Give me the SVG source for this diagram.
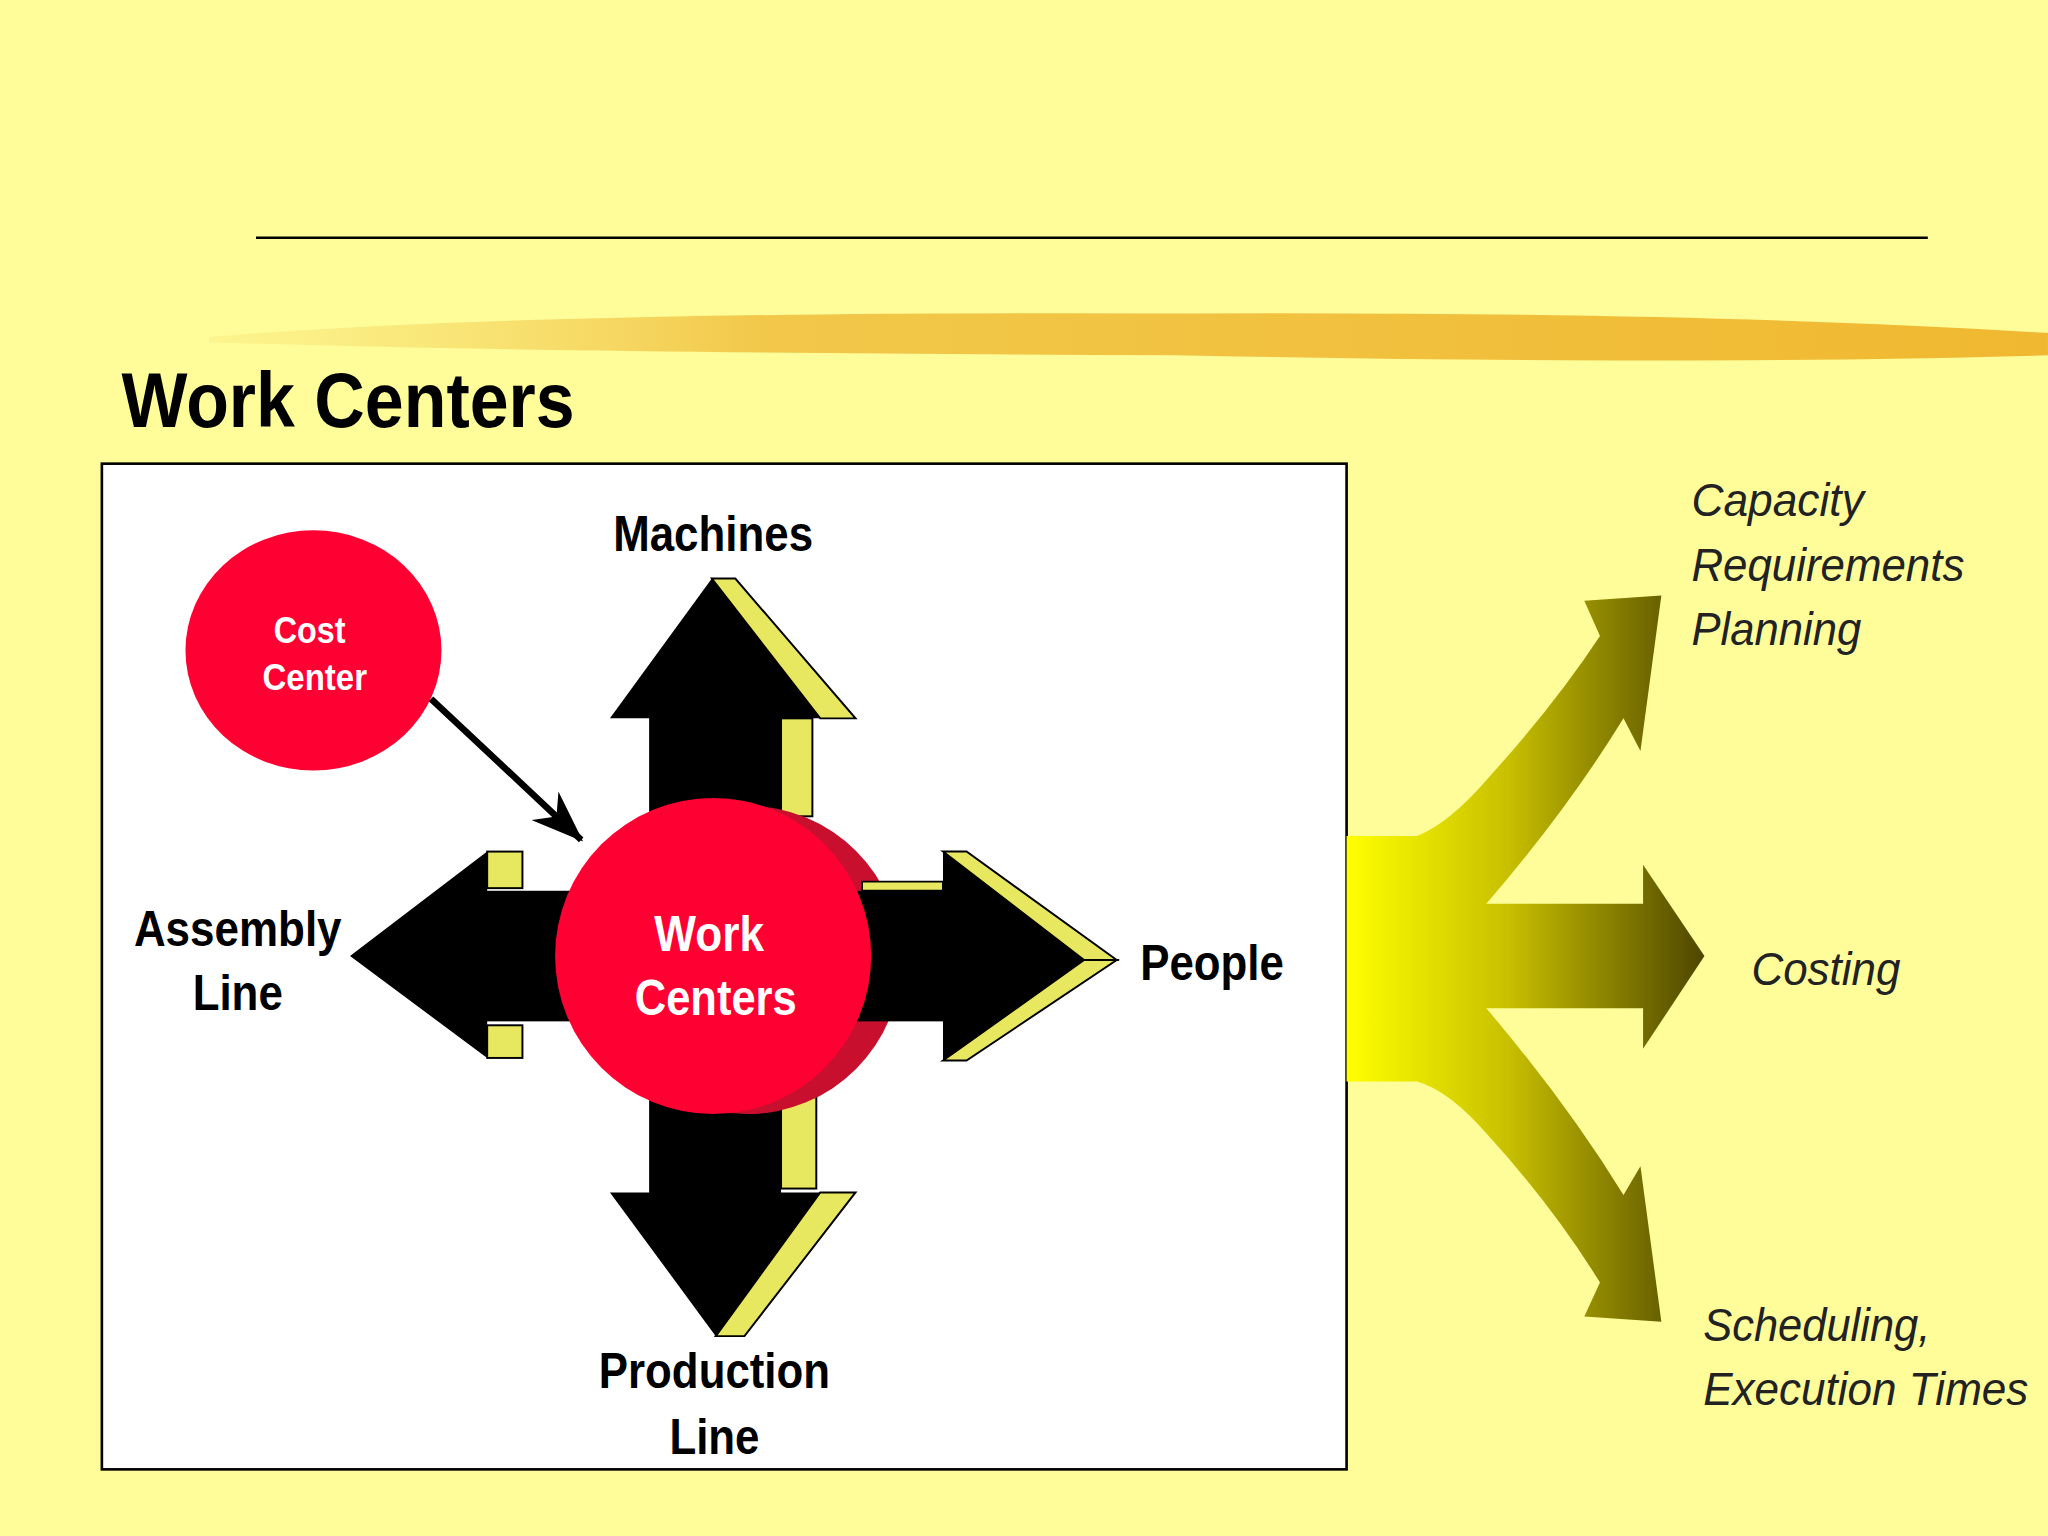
<svg xmlns="http://www.w3.org/2000/svg" width="2048" height="1536" viewBox="0 0 2048 1536">
<defs>
<style>
.b{font-family:"Liberation Sans Narrow","Liberation Sans",Arial,sans-serif;font-weight:bold;text-anchor:middle}
.i{font-family:"Liberation Sans",Arial,sans-serif;font-style:italic;fill:#222;font-size:36px}
.k{fill:#000}.y{fill:#E8E860;stroke:#000;stroke-width:1.5}
</style>
<linearGradient id="g" x1="1031" y1="0" x2="1305" y2="0" gradientUnits="userSpaceOnUse">
<stop offset="0" stop-color="#FFFF00"/><stop offset="0.45" stop-color="#C8C000"/><stop offset="1" stop-color="#4E4600"/></linearGradient>
<linearGradient id="br" x1="0" y1="0" x2="1" y2="0">
<stop offset="0" stop-color="#F8E070" stop-opacity="0.3"/><stop offset="0.3" stop-color="#F2C84A"/><stop offset="1" stop-color="#F0B830"/></linearGradient>
<marker id="ah" markerWidth="40" markerHeight="30" refX="38" refY="15" orient="auto" markerUnits="userSpaceOnUse" viewBox="0 0 40 30"><path d="M0,0 L40,15 L0,30 L12,15Z" fill="#000"/></marker>
</defs>
<rect width="2048" height="1536" fill="#FEFD9A"/>
<g transform="scale(1.3061)">
<line x1="196" y1="182" x2="1476" y2="182" stroke="#000" stroke-width="2"/>
<path d="M160,258 Q400,238 900,240 Q1300,238 1568,255 L1568,272 Q1300,280 900,272 Q400,270 160,262Z" fill="url(#br)"/>
<text x="93" y="327" class="b" textLength="347" lengthAdjust="spacingAndGlyphs" style="text-anchor:start;font-size:60px;fill:#000">Work Centers</text>
<rect x="78" y="355" width="953" height="770" fill="#fff" stroke="#000" stroke-width="2"/>
<g id="cost"><ellipse cx="240" cy="498" rx="98" ry="92" fill="#FF0033"/>
<text x="237" y="492" class="b" textLength="55" lengthAdjust="spacingAndGlyphs" style="font-size:28px;fill:#fff">Cost</text>
<text x="241" y="528" class="b" textLength="80" lengthAdjust="spacingAndGlyphs" style="font-size:28px;fill:#fff">Center</text></g>
<g id="connectors"><line x1="330" y1="535" x2="445" y2="643" stroke="#000" stroke-width="5" marker-end="url(#ah)"/></g>
<g id="up"><rect x="497" y="548" width="101" height="95" class="k"/><rect x="598" y="550" width="24" height="75" class="y"/>
<polygon points="467,550 545,443 628,550" class="k"/><polygon points="545,443 563,443 655,550 628,550" class="y"/></g>
<g id="down"><rect x="497" y="835" width="101" height="80" class="k"/><rect x="598" y="840" width="27" height="70" class="y"/>
<polygon points="467,913 548,1023 628,913" class="k"/><polygon points="628,913 655,913 570,1023 548,1023" class="y"/></g>
<g id="left"><rect x="370" y="682" width="73" height="100" class="k"/><rect x="373" y="652" width="27" height="28" class="y"/><rect x="373" y="785" width="27" height="25" class="y"/>
<polygon points="268,732 373,652 373,810" class="k"/></g>
<g id="wc"><circle cx="572" cy="735" r="118" fill="#C8102E"/>
<polygon points="660,675 722,675 722,682 660,682" class="y"/>
<rect x="655" y="682" width="70" height="100" class="k"/>
<polygon points="722,652 830,735 722,812" class="k"/><polygon points="722,652 740,652 855,735 830,735" class="y"/><polygon points="830,735 855,735 740,812 722,812" class="y"/>
<circle cx="546" cy="732" r="121" fill="#FF0033"/>
<text x="543" y="728" class="b" textLength="84" lengthAdjust="spacingAndGlyphs" style="font-size:38px;fill:#fff">Work</text>
<text x="548" y="777" class="b" textLength="124" lengthAdjust="spacingAndGlyphs" style="font-size:38px;fill:#fff">Centers</text></g>
<g class="b" style="font-size:38px;fill:#000">
<text x="546" y="422" textLength="153" lengthAdjust="spacingAndGlyphs">Machines</text>
<text x="182" y="724" textLength="159" lengthAdjust="spacingAndGlyphs">Assembly</text><text x="182" y="773" textLength="69" lengthAdjust="spacingAndGlyphs">Line</text>
<text x="928" y="750" textLength="110" lengthAdjust="spacingAndGlyphs">People</text>
<text x="547" y="1063" textLength="177" lengthAdjust="spacingAndGlyphs">Production</text><text x="547" y="1113" textLength="69" lengthAdjust="spacingAndGlyphs">Line</text></g>
<g id="fan"><path d="M1031,640 L1085,640 Q1110,630 1140,595 Q1190,540 1225,487 L1213,460 L1272,456 L1256,575 L1243,550 Q1200,620 1138,692 L1258,692 L1258,662 L1305,732 L1258,803 L1258,772 L1138,772 Q1200,845 1243,915 L1256,893 L1272,1012 L1213,1008 L1225,982 Q1190,925 1140,870 Q1110,835 1085,828 L1031,828 Z" fill="url(#g)"/></g>
<text x="1295" y="395" class="i" textLength="132" lengthAdjust="spacingAndGlyphs">Capacity</text><text x="1295" y="445" class="i" textLength="209" lengthAdjust="spacingAndGlyphs">Requirements</text><text x="1295" y="494" class="i" textLength="130" lengthAdjust="spacingAndGlyphs">Planning</text>
<text x="1341" y="754" class="i" textLength="114" lengthAdjust="spacingAndGlyphs">Costing</text>
<text x="1304" y="1027" class="i" textLength="174" lengthAdjust="spacingAndGlyphs">Scheduling,</text><text x="1304" y="1076" class="i" textLength="249" lengthAdjust="spacingAndGlyphs">Execution Times</text>
</g>
</svg>
